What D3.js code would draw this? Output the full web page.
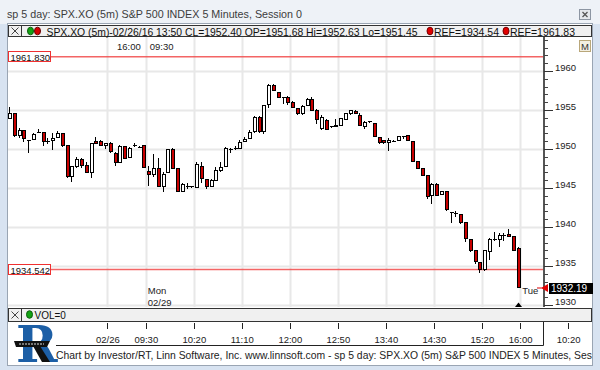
<!DOCTYPE html>
<html>
<head>
<meta charset="utf-8">
<script src="https://cdn.jsdelivr.net/npm/d3@7/dist/d3.min.js"></script>
<style>
    html, body { margin: 0; padding: 0; background: #fff; }
    svg { display: block; font-family: "Liberation Sans", Arial, sans-serif; }
</style>
</head>
<body>
<svg id="chart"></svg>
<script>
// 5 minute bars, 02/26 afternoon then the whole 02/29 session
const barOpen = [
    1953.85, 1954.5, 1951.68, 1952.35, 1951.15, 1951.25, 1952.1, 1952.1, 1951.0, 1951.1,
    1951.5, 1952.0, 1950.4, 1946.45, 1947.8, 1948.7, 1947.85, 1946.95, 1951.0, 1950.9,
    1950.4, 1950.7, 1949.45, 1948.3, 1950.3, 1948.95, 1950.35, 1950.3, 1950.4,
    1947.1, 1946.75, 1947.5, 1945.25, 1947.0, 1950.0, 1947.45, 1944.6, 1945.2, 1945.15,
    1945.1, 1947.8, 1946.1, 1945.15, 1946.0, 1947.2, 1947.8, 1950.1, 1949.95, 1950.1,
    1950.95, 1951.35, 1952.2, 1954.1, 1952.2, 1955.75, 1958.2, 1957.25, 1956.6, 1956.6,
    1956.0, 1955.2, 1954.5, 1955.6, 1956.3, 1955.0, 1952.6, 1953.7, 1952.85, 1952.85,
    1953.0, 1953.8, 1954.6, 1954.8, 1954.25, 1952.85, 1953.5, 1953.3, 1951.5, 1951.1,
    1950.85, 1951.1, 1951.1, 1951.65, 1951.7, 1950.95, 1948.4, 1947.55, 1946.65, 1944.0,
    1945.4, 1944.15, 1944.55, 1941.85, 1941.8, 1941.55, 1940.55, 1938.45, 1937.05, 1935.4,
    1934.55, 1936.85, 1938.3, 1938.4, 1938.95, 1939.1, 1938.75, 1937.2
];
const barHigh = [
    1955.4, 1954.6, 1952.63, 1952.4, 1951.2, 1952.1, 1952.6, 1952.15, 1951.4, 1952.0,
    1952.3, 1952.1, 1950.5, 1947.8, 1949.0, 1948.9, 1948.3, 1950.7, 1951.5, 1951.1,
    1950.8, 1950.85, 1949.65, 1950.55, 1950.4, 1950.2, 1950.8, 1950.4, 1950.5,
    1947.8, 1949.35, 1948.9, 1947.1, 1950.05, 1950.1, 1947.5, 1945.7, 1945.6, 1945.3,
    1948.3, 1948.3, 1946.2, 1946.2, 1947.7, 1948.3, 1950.2, 1950.15, 1950.4, 1951.2,
    1951.5, 1952.4, 1954.2, 1954.2, 1955.7, 1958.35, 1958.3, 1957.3, 1956.65, 1956.8,
    1956.1, 1955.3, 1955.6, 1956.6, 1956.7, 1955.1, 1954.3, 1953.8, 1953.0, 1953.9,
    1954.0, 1954.6, 1955.0, 1955.0, 1954.6, 1953.6, 1953.6, 1953.35, 1951.6, 1951.2,
    1951.4, 1951.2, 1951.7, 1951.7, 1951.8, 1951.0, 1948.5, 1947.6, 1946.7, 1945.7,
    1945.6, 1944.6, 1944.6, 1941.9, 1942.0, 1941.6, 1940.6, 1938.5, 1937.1, 1935.45,
    1937.1, 1938.55, 1939.3, 1939.2, 1939.2, 1939.8, 1938.9, 1937.5
];
const barLow = [
    1953.85, 1951.5, 1951.45, 1950.9, 1949.5, 1951.2, 1952.05, 1950.4, 1950.6, 1949.9,
    1951.45, 1950.3, 1946.3, 1945.8, 1947.6, 1947.6, 1946.9, 1946.3, 1950.65, 1950.35,
    1950.0, 1949.5, 1947.8, 1948.3, 1948.7, 1948.9, 1950.2, 1950.1, 1947.6,
    1945.2, 1946.45, 1945.1, 1944.55, 1946.9, 1947.4, 1944.5, 1944.5, 1944.9, 1945.0,
    1945.0, 1945.6, 1944.9, 1945.1, 1945.9, 1947.1, 1947.7, 1949.5, 1949.9, 1950.05,
    1950.9, 1951.3, 1952.1, 1952.1, 1951.9, 1955.2, 1957.4, 1956.5, 1955.75, 1955.7,
    1955.2, 1954.4, 1954.4, 1955.5, 1954.9, 1953.2, 1952.4, 1952.4, 1952.7, 1952.8,
    1952.9, 1953.7, 1954.4, 1954.5, 1952.9, 1952.6, 1953.3, 1951.5, 1950.7, 1950.7,
    1949.8, 1950.9, 1951.0, 1951.3, 1951.1, 1948.3, 1947.4, 1946.6, 1943.6, 1942.95,
    1944.0, 1944.1, 1942.1, 1940.55, 1941.3, 1940.4, 1938.1, 1936.8, 1935.3, 1934.05,
    1934.3, 1935.75, 1938.2, 1937.5, 1938.2, 1938.7, 1936.9, 1932.19
];
const barClose = [
    1954.5, 1951.7, 1952.4, 1951.3, 1951.1, 1951.8, 1952.15, 1950.95, 1950.95, 1951.4,
    1952.0, 1950.4, 1946.5, 1947.7, 1948.65, 1947.9, 1946.95, 1950.65, 1950.7, 1950.4,
    1950.7, 1949.65, 1948.25, 1950.3, 1948.8, 1950.1, 1950.4, 1950.25, 1947.65,
    1946.7, 1947.5, 1945.2, 1946.75, 1950.0, 1947.5, 1944.6, 1945.4, 1945.15, 1945.2,
    1947.95, 1946.25, 1945.15, 1946.0, 1947.3, 1947.65, 1950.1, 1949.95, 1950.05, 1950.8,
    1951.25, 1952.1, 1954.1, 1952.2, 1955.6, 1958.2, 1957.5, 1956.6, 1956.55, 1956.0,
    1955.35, 1954.5, 1955.4, 1956.35, 1955.0, 1953.8, 1954.1, 1952.45, 1952.9, 1953.05,
    1953.9, 1954.55, 1954.9, 1954.6, 1952.95, 1953.4, 1953.5, 1951.6, 1950.8, 1950.8,
    1951.15, 1951.0, 1951.65, 1951.65, 1951.15, 1948.4, 1947.5, 1946.65, 1943.9, 1945.5,
    1944.1, 1944.5, 1942.2, 1941.85, 1941.75, 1940.55, 1938.55, 1937.05, 1935.55, 1934.55,
    1937.05, 1938.35, 1938.45, 1938.95, 1938.95, 1938.8, 1937.0, 1932.19
];

// bottom time axis: label and the bar slot it sits on
const timeTickLabels = ['02/26', '09:30', '10:20', '11:10', '12:00', '12:50', '13:40', '14:30', '15:20', '16:00', '10:20'];
const timeTickBars = [21, 29, 39, 49, 59, 69, 79, 89, 99, 107, 117];

// session break labels along the top and bottom of the plot
const sessionEndLabel = '16:00';
const sessionStartLabel = '09:30';
const sessionBreakBar = 29;
const dayNames = ['Mon', 'Tue'];
const dayDates = ['02/29', ''];
const dayBars = [29, 107];

const priceTicks = [1930, 1935, 1940, 1945, 1950, 1955, 1960];
const refLevels = [1961.830, 1934.542];
const refLabels = ['1961.830', '1934.542'];
const lastPrice = 1932.19;

const titleText = 'sp 5 day: SPX.XO (5m) S&P 500 INDEX 5 Minutes, Session 0';
const legendText = 'SPX.XO (5m)-02/26/16 13:50 CL=1952.40 OP=1951.68 Hi=1952.63 Lo=1951.45';
const legendRefs = ['REF=1934.54', 'REF=1961.83'];
const volumeText = 'VOL=0';
const footerText = 'Chart by Investor/RT, Linn Software, Inc. www.linnsoft.com - sp 5 day: SPX.XO (5m) S&P 500 INDEX 5 Minutes, Session 0';


function CandleChart(element) {
    this.element = element;
    this.svg = null;

    this.config = {
        width: 600,
        height: 370,

        plotLeft: 8,
        plotRight: 543,
        plotTop: 37,
        plotBottom: 307,
        panelRight: 592,

        slotWidth: 4.8,
        firstSlot: 6.6,

        upFill: '#ffffff',
        downFill: '#c80000',
        gridColor: '#e8e8e8',
        refColor: '#f24b4b',
        frameColor: '#d8e3f1',
        barFill: '#f0f0f0'
    };

    this.x = null;
    this.y = null;

    this.init = function () {
        this.element.innerHTML = '';
        this.setup();
    };

    this.setup = function () {
        let me = this;
        let c = me.config;

        me.svg = d3.select(me.element)
            .attr('width', c.width)
            .attr('height', c.height);

        // slot i covers [x(i), x(i+1)], bar centre at x(i + 0.5)
        me.x = d3.scaleLinear()
            .domain([0, 1])
            .range([c.firstSlot, c.firstSlot + c.slotWidth]);

        me.y = d3.scaleLinear()
            .domain([1930, 1960])
            .range([305, 71]);

        me.drawFrame();
        me.drawGrid();
        me.drawRefLines();
        me.drawCandles();
        me.drawPriceAxis();
        me.drawTimeAxis();
        me.drawLegend();
        me.drawFooter();
    };

    this.drawFrame = function () {
        let me = this, c = me.config, svg = me.svg;

        svg.append('rect').attr('width', c.width).attr('height', c.height).attr('fill', c.frameColor);
        svg.append('rect').attr('width', c.width).attr('height', 24).attr('fill', '#eef2f7');
        svg.append('rect')
            .attr('x', 7.5).attr('y', 23.5)
            .attr('width', c.panelRight - 7).attr('height', 342)
            .attr('fill', '#fff').attr('stroke', '#9aa5b3');

        svg.append('text')
            .attr('x', 7).attr('y', 18)
            .attr('font-size', 11.5).attr('fill', '#3c3c3c')
            .text(titleText)
            .call(me.fit, 295);

        // close button at the top right
        let cb = svg.append('g').attr('transform', 'translate(579,9)');
        cb.append('rect').attr('x', 0.5).attr('y', 0.5).attr('width', 11).attr('height', 10)
            .attr('fill', '#e4e7ec').attr('stroke', '#8d96a3');
        cb.append('path').attr('d', 'M3.5,3 L8.5,8 M8.5,3 L3.5,8').attr('stroke', '#555').attr('stroke-width', 1.3);

        let defs = svg.append('defs');
        defs.append('clipPath').attr('id', 'plotClip')
            .append('rect')
            .attr('x', c.plotLeft).attr('y', c.plotTop)
            .attr('width', c.plotRight - c.plotLeft).attr('height', c.plotBottom - c.plotTop);
        defs.append('clipPath').attr('id', 'footClip')
            .append('rect')
            .attr('x', 0).attr('y', 340).attr('width', c.panelRight).attr('height', 30);
    };

    this.drawGrid = function () {
        let me = this, c = me.config;
        let g = me.svg.append('g').attr('clip-path', 'url(#plotClip)');

        g.selectAll('line.h')
            .data(priceTicks)
            .enter().append('line')
            .attr('x1', c.plotLeft).attr('x2', c.plotRight)
            .attr('y1', d => Math.round(me.y(d)) + 0.5)
            .attr('y2', d => Math.round(me.y(d)) + 0.5)
            .attr('stroke', c.gridColor).attr('stroke-width', 2);

        g.selectAll('line.v')
            .data(timeTickBars.filter(b => me.x(b) < c.plotRight))
            .enter().append('line')
            .attr('x1', d => Math.round(me.x(d)) + 0.5)
            .attr('x2', d => Math.round(me.x(d)) + 0.5)
            .attr('y1', c.plotTop).attr('y2', c.plotBottom)
            .attr('stroke', c.gridColor).attr('stroke-width', 2);

        // session break labels
        me.svg.append('text')
            .attr('x', me.x(sessionBreakBar) - 5).attr('y', 50)
            .attr('text-anchor', 'end').attr('font-size', 9.5).attr('fill', '#222')
            .text(sessionEndLabel);
        me.svg.append('text')
            .attr('x', me.x(sessionBreakBar) + 4).attr('y', 50)
            .attr('font-size', 9.5).attr('fill', '#222')
            .text(sessionStartLabel);

        dayBars.forEach((b, i) => {
            me.svg.append('text')
                .attr('x', me.x(b) + 2).attr('y', 294)
                .attr('font-size', 9.5).attr('fill', '#222')
                .text(dayNames[i]);
            if (dayDates[i]) {
                me.svg.append('text')
                    .attr('x', me.x(b) + 2).attr('y', 306)
                    .attr('font-size', 9.5).attr('fill', '#222')
                    .text(dayDates[i]);
            }
        });
    };

    this.drawRefLines = function () {
        let me = this, c = me.config;
        let g = me.svg.append('g').attr('clip-path', 'url(#plotClip)');

        g.selectAll('line')
            .data(refLevels)
            .enter().append('line')
            .attr('x1', c.plotLeft).attr('x2', c.plotRight)
            .attr('y1', d => me.y(d)).attr('y2', d => me.y(d))
            .attr('stroke', c.refColor).attr('stroke-width', 1.6).attr('opacity', 0.85);

        let lab = me.svg.selectAll('g.reflabel')
            .data(refLevels)
            .enter().append('g')
            .attr('class', 'reflabel')
            .attr('transform', d => 'translate(8,' + Math.round(me.y(d)) + ')');
        lab.append('rect')
            .attr('x', 0.5).attr('y', -5.5).attr('width', 42).attr('height', 10)
            .attr('fill', '#fff').attr('stroke', '#f03030');
        lab.append('text')
            .attr('x', 2.5).attr('y', 3.5)
            .attr('font-size', 9.5).attr('fill', '#111')
            .text((d, i) => refLabels[i]);
    };

    this.drawCandles = function () {
        let me = this, c = me.config;
        let bars = barOpen.map((o, i) => ({
            i: i, o: o, h: barHigh[i], l: barLow[i], c: barClose[i]
        }));
        let cx = d => Math.round(me.x(d.i + 0.5));

        let g = me.svg.append('g')
            .attr('clip-path', 'url(#plotClip)')
            .attr('shape-rendering', 'crispEdges');

        g.selectAll('line.wick')
            .data(bars)
            .enter().append('line')
            .attr('x1', d => cx(d) + 0.5).attr('x2', d => cx(d) + 0.5)
            .attr('y1', d => me.y(d.h)).attr('y2', d => me.y(d.l))
            .attr('stroke', '#000');

        g.selectAll('rect.body')
            .data(bars.filter(d => Math.abs(me.y(d.o) - me.y(d.c)) >= 1.5))
            .enter().append('rect')
            .attr('x', d => cx(d) - 1)
            .attr('width', 3)
            .attr('y', d => me.y(Math.max(d.o, d.c)))
            .attr('height', d => Math.abs(me.y(d.o) - me.y(d.c)))
            .attr('fill', d => d.c >= d.o ? c.upFill : c.downFill)
            .attr('stroke', '#000');

        // dojis draw as a short dash
        g.selectAll('line.doji')
            .data(bars.filter(d => Math.abs(me.y(d.o) - me.y(d.c)) < 1.5))
            .enter().append('line')
            .attr('x1', d => cx(d) - 1).attr('x2', d => cx(d) + 3)
            .attr('y1', d => me.y(d.c)).attr('y2', d => me.y(d.c))
            .attr('stroke', '#000');

        // marker under the last bar
        let last = bars[bars.length - 1];
        me.svg.append('path')
            .attr('d', 'M' + (cx(last) + 0.5) + ',302.5 l-3.5,4.5 h7 z')
            .attr('fill', '#000');
    };

    this.drawPriceAxis = function () {
        let me = this, c = me.config;
        let ax = c.plotRight + 1;

        me.svg.append('line')
            .attr('x1', ax).attr('x2', ax)
            .attr('y1', c.plotTop).attr('y2', c.plotBottom)
            .attr('stroke', '#555').attr('stroke-width', 2);

        let minor = d3.range(1930, 1965).filter(v => priceTicks.indexOf(v) < 0);
        me.svg.selectAll('line.minor')
            .data(minor)
            .enter().append('line')
            .attr('x1', ax).attr('x2', ax + 4)
            .attr('y1', d => Math.round(me.y(d)) + 0.5).attr('y2', d => Math.round(me.y(d)) + 0.5)
            .attr('stroke', '#444');

        me.svg.selectAll('line.major')
            .data(priceTicks)
            .enter().append('line')
            .attr('x1', ax).attr('x2', ax + 9)
            .attr('y1', d => Math.round(me.y(d)) + 0.5).attr('y2', d => Math.round(me.y(d)) + 0.5)
            .attr('stroke', '#333');

        me.svg.selectAll('text.price')
            .data(priceTicks)
            .enter().append('text')
            .attr('x', ax + 11).attr('y', d => me.y(d) - 0.5)
            .attr('font-size', 9.5).attr('fill', '#222')
            .text(d => d);

        // last price tag
        let ly = Math.round(me.y(lastPrice));
        me.svg.append('path')
            .attr('d', 'M' + (ax - 3) + ',' + ly + ' l7,-4 v8 z M' + (ax - 7) + ',' + (ly - 0.5) + ' h6 v1 h-6 z')
            .attr('fill', '#e00000');
        me.svg.append('rect')
            .attr('x', ax + 5).attr('y', ly - 5).attr('width', 44).attr('height', 11)
            .attr('fill', '#000');
        me.svg.append('text')
            .attr('x', ax + 7).attr('y', ly + 4)
            .attr('font-size', 10).attr('fill', '#fff')
            .text(d3.format('.2f')(lastPrice));

        // small "M" button in the corner
        let mb = me.svg.append('g').attr('transform', 'translate(579,40)');
        mb.append('rect').attr('x', 0.5).attr('y', 0.5).attr('width', 11).attr('height', 11)
            .attr('fill', '#f3efe2').attr('stroke', '#b9a77a');
        mb.append('text').attr('x', 6).attr('y', 9.5).attr('text-anchor', 'middle')
            .attr('font-size', 9.5).attr('fill', '#333').text('M');
    };

    this.drawTimeAxis = function () {
        let me = this, c = me.config;

        // volume pane strip
        me.drawStrip(308, 14);
        me.svg.append('ellipse')
            .attr('cx', 29.5).attr('cy', 314.5).attr('rx', 3).attr('ry', 3.8)
            .attr('fill', '#13a313').attr('stroke', '#0b5c0b');
        me.svg.append('text')
            .attr('x', 34.5).attr('y', 319)
            .attr('font-size', 10).attr('fill', '#111')
            .text(volumeText);

        let g = me.svg.append('g');
        g.selectAll('line')
            .data(timeTickBars)
            .enter().append('line')
            .attr('x1', d => Math.round(me.x(d)) + 0.5).attr('x2', d => Math.round(me.x(d)) + 0.5)
            .attr('y1', 323).attr('y2', 329)
            .attr('stroke', '#222');
        g.selectAll('text')
            .data(timeTickBars)
            .enter().append('text')
            .attr('x', d => me.x(d) + 0.5).attr('y', 343)
            .attr('text-anchor', 'middle')
            .attr('font-size', 9.5).attr('fill', '#222')
            .text((d, i) => timeTickLabels[i]);

        me.svg.append('path')
            .attr('d', 'M56,345.5 H' + (c.plotRight + 0.5) + ' V322')
            .attr('fill', 'none').attr('stroke', '#222');
    };

    this.drawStrip = function (top, h) {
        let me = this, c = me.config;
        me.svg.append('rect')
            .attr('x', c.plotLeft + 0.5).attr('y', top + 0.5)
            .attr('width', c.panelRight - c.plotLeft - 1).attr('height', h - 1)
            .attr('fill', c.barFill).attr('stroke', '#333');
        me.svg.append('rect')
            .attr('x', c.plotLeft + 0.5).attr('y', top + 0.5)
            .attr('width', 13).attr('height', h - 1)
            .attr('fill', 'none').attr('stroke', '#333');
        let m = top + h / 2;
        me.svg.append('path')
            .attr('d', 'M11.5,' + (m - 3.5) + ' l7,7 M18.5,' + (m - 3.5) + ' l-7,7')
            .attr('stroke', '#444');
    };

    this.drawLegend = function () {
        let me = this;
        me.drawStrip(25, 12);

        me.svg.append('ellipse')
            .attr('cx', 30.5).attr('cy', 31).attr('rx', 3).attr('ry', 3.8)
            .attr('fill', '#13a313').attr('stroke', '#0b5c0b');
        me.svg.append('ellipse')
            .attr('cx', 37.5).attr('cy', 31).attr('rx', 3).attr('ry', 3.8)
            .attr('fill', '#d60000').attr('stroke', '#600');

        me.svg.append('text')
            .attr('x', 46.5).attr('y', 35.5)
            .attr('font-size', 10.5).attr('fill', '#111')
            .text(legendText)
            .call(me.fit, 371);

        let refX = [430, 506];
        legendRefs.forEach((t, i) => {
            me.svg.append('ellipse')
                .attr('cx', refX[i]).attr('cy', 31).attr('rx', 3).attr('ry', 3.8)
                .attr('fill', '#e00000').attr('stroke', '#700');
            me.svg.append('text')
                .attr('x', refX[i] + 4).attr('y', 35.5)
                .attr('font-size', 10.5).attr('fill', '#111')
                .text(t)
                .call(me.fit, 65);
        });
    };

    this.drawFooter = function () {
        let me = this;

        // Investor/RT logo
        let logo = me.svg.append('g');
        logo.append('text')
            .attr('x', 16).attr('y', 362)
            .attr('font-family', '"DejaVu Serif", serif').attr('font-weight', 'bold')
            .attr('font-size', 50).attr('fill', '#1d5fa6')
            .text('R');
        logo.append('path')
            .attr('d', 'M33,346 L40,346 L50,362 L42,362 Z')
            .attr('fill', '#111');
        logo.append('path')
            .attr('d', 'M14,341 L50,341 L47,347 L16,347 Z')
            .attr('fill', '#111');
        // the tiny banner lettering is drawn as dashes, it is not legible at this size
        logo.append('path')
            .attr('d', 'M19,344 H44')
            .attr('stroke', '#ddd').attr('stroke-width', 1).attr('stroke-dasharray', '2,1');

        let ft = me.svg.append('text')
            .attr('clip-path', 'url(#footClip)')
            .attr('x', 56).attr('y', 359)
            .attr('font-size', 10.5).attr('fill', '#222')
            .text(footerText);

        // the visible part "... 5 Minutes, Ses" reaches the frame edge
        let probe = me.svg.append('text').attr('font-size', 10.5)
            .text(footerText.slice(0, footerText.indexOf('Session') + 3));
        let wPart = probe.node().getComputedTextLength();
        probe.remove();
        let wAll = ft.node().getComputedTextLength();
        ft.attr('textLength', wAll * 536 / wPart).attr('lengthAdjust', 'spacingAndGlyphs');
    };

    this.fit = function (sel, width) {
        sel.attr('textLength', width).attr('lengthAdjust', 'spacingAndGlyphs');
    };

    this.init();
}

new CandleChart(document.getElementById('chart'));
</script>
</body>
</html>
